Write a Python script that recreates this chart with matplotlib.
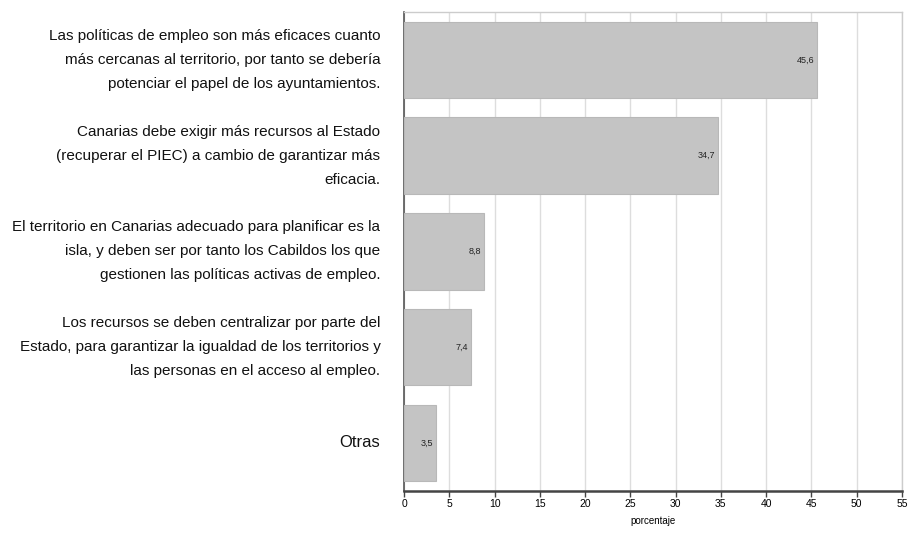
import matplotlib.pyplot as plt

categories = [
    "Las políticas de empleo son más eficaces cuanto\nmás cercanas al territorio, por tanto se debería\npotenciar el papel de los ayuntamientos.",
    "Canarias debe exigir más recursos al Estado\n(recuperar el PIEC) a cambio de garantizar más\neficacia.",
    "El territorio en Canarias adecuado para planificar es la\nisla, y deben ser por tanto los Cabildos los que\ngestionen las políticas activas de empleo.",
    "Los recursos se deben centralizar por parte del\nEstado, para garantizar la igualdad de los territorios y\nlas personas en el acceso al empleo.",
    "Otras",
]
values = [45.6, 34.7, 8.8, 7.4, 3.5]
value_labels = ["45,6", "34,7", "8,8", "7,4", "3,5"]
xticks = [0, 5, 10, 15, 20, 25, 30, 35, 40, 45, 50, 55]

plt.rcParams['font.family'] = ['Liberation Sans', 'DejaVu Sans']

fig = plt.figure(figsize=(9.12, 5.33), dpi=100)
ax = fig.add_axes([0.443, 0.0794, 0.546, 0.898])

pos = list(range(len(values)))
ax.barh(pos, values, height=0.8, color='#c4c4c4', edgecolor='#b8b8b8', linewidth=0.8, zorder=3)

for p, v, lab in zip(pos, values, value_labels):
    ax.text(v - 0.3, p, lab, ha='right', va='center', fontsize=6.5, color='#222222', zorder=4)

ax.set_xlim(0, 55)
ax.set_ylim(4.5, -0.5)
ax.set_xticks(xticks)
ax.set_xticklabels([str(t) for t in xticks], fontsize=7.5)
ax.set_yticks(pos)
ax.set_yticklabels([])
ax.tick_params(axis='y', length=0)
ax.tick_params(axis='x', length=4, width=1, color='#444444', pad=2)
ax.xaxis.grid(True, color='#dddddd', linewidth=1, zorder=0)

for s in ['top', 'right']:
    ax.spines[s].set_color('#cccccc')
    ax.spines[s].set_linewidth(1)
ax.spines['left'].set_color('#555555')
ax.spines['left'].set_linewidth(1.2)
ax.spines['bottom'].set_color('#444444')
ax.spines['bottom'].set_linewidth(1.8)

ax.set_xlabel("porcentaje", fontsize=7, labelpad=5)

for p, cat in zip(pos, categories):
    size = 12 if cat == "Otras" else 11
    ax.text(-2.6, p, cat, ha='right', va='center', fontsize=size,
            linespacing=1.9, color='#111111', transform=ax.transData)

fig.savefig("out.png", dpi=100)
